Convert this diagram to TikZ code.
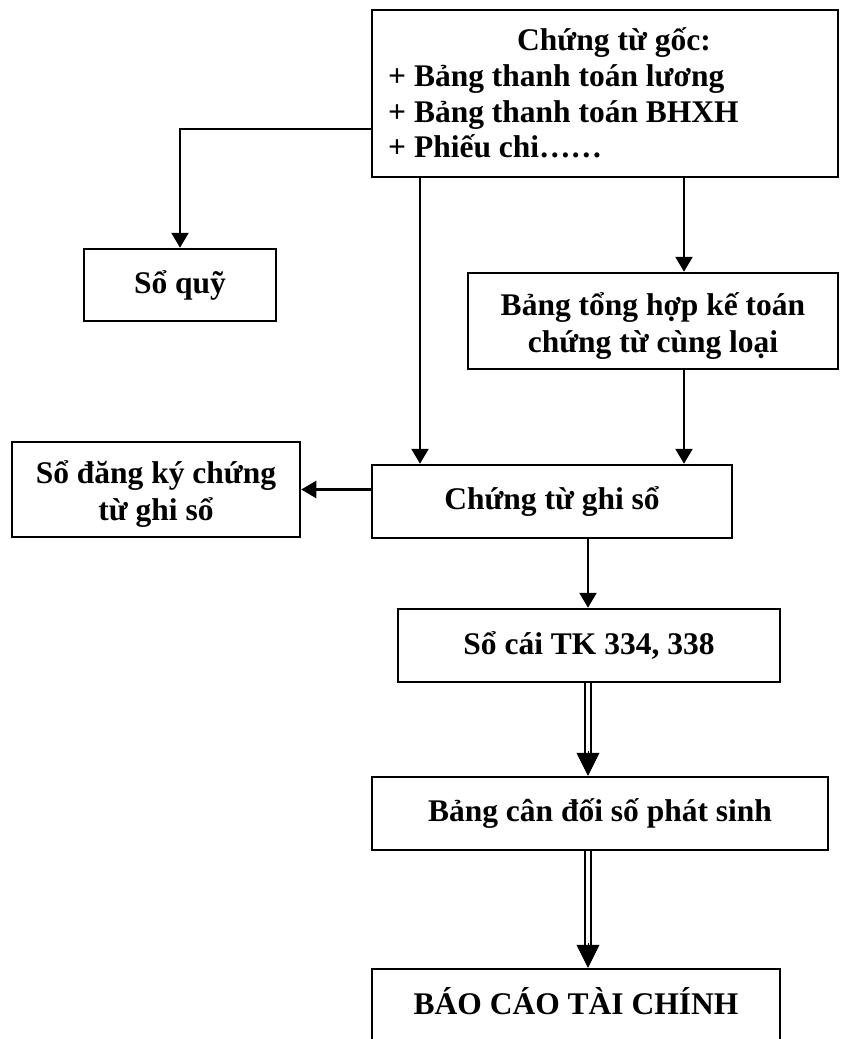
\documentclass[tikz,border=0pt]{standalone}
\usepackage{fontspec}
\setmainfont{Liberation Serif}
\usetikzlibrary{arrows.meta,calc}

\newcommand\dgfont{\fontsize{31.5}{37}\selectfont\bfseries}

\begin{document}
\begin{tikzpicture}[x=1pt,y=-1pt,
  box/.style={draw,line width=2.5pt,inner sep=0pt,align=center,font=\dgfont},
  txt/.style={inner sep=0pt,font=\dgfont},
  twoline/.style={label={[txt,align=center,yshift=-5pt]center:#1}},
  arr/.style={line width=2.3pt,-{Triangle[width=17pt,length=15pt]}},
  dblline/.style={line width=2.2pt,double distance=4pt},
  bigtip/.style={line width=0.5pt,-{Triangle[width=23pt,length=23pt]}}]

\useasboundingbox (0,0) rectangle (841,1039);

% boxes
\node[box,minimum width=466,minimum height=167] (goc) at (605,93.5) {};
\node[txt,anchor=base] (g1) at (614,50) {Chứng từ gốc:};
\node[txt,anchor=base west] (g2) at (388,86) {+ Bảng thanh toán lương};
\node[txt,anchor=base west] (g3) at (388,122) {+ Bảng thanh toán BHXH};
\node[txt,anchor=base west] (g4) at (388,157) {+ Phiếu chi\dots\dots};

\node[box,minimum width=192,minimum height=72] (quy) at (180,285) {Sổ quỹ};
\node[box,minimum width=370,minimum height=96,
  twoline={Bảng tổng hợp kế toán\\chứng từ cùng loại}] (bth) at (653,321) {};
\node[box,minimum width=288,minimum height=95,
  twoline={Sổ đăng ký chứng\\từ ghi sổ}] (sdk) at (156,489.5) {};
\node[box,minimum width=360,minimum height=73] (ctgs) at (552,501.5) {Chứng từ ghi sổ};
\node[box,minimum width=382,minimum height=73] (sc) at (589,645.5) {Sổ cái TK 334, 338};
\node[box,minimum width=456,minimum height=73] (cd) at (600,813.5) {Bảng cân đối số phát sinh};
\node[box,minimum width=408,minimum height=110] (bc) at (576,1024) {};
\node[txt] (bcT) at (576,1001) {BÁO CÁO TÀI CHÍNH};

% anchor columns / rows for the connectors
\coordinate (xa) at (420,0);
\coordinate (xb) at (684,0);
\coordinate (xd) at (588,0);
\coordinate (yq) at (0,129);

% single connectors
\draw[arr] (goc.west |- yq) -| (quy.north);
\draw[arr] (goc.south -| xa) -- (ctgs.north -| xa);
\draw[arr] (goc.south -| xb) -- (bth.north -| xb);
\draw[arr] (bth.south -| xb) -- (ctgs.north -| xb);
\draw[arr] (ctgs.west |- sdk.east) -- (sdk.east);
\draw[arr] (ctgs.south -| xd) -- (sc.north -| xd);

% double connectors
\draw[dblline,shorten >=20pt] (sc.south -| xd) -- (cd.north -| xd);
\draw[bigtip] ($(cd.north -| xd)+(0,-25)$) -- (cd.north -| xd);
\draw[dblline,shorten >=20pt] (cd.south -| xd) -- (bc.north -| xd);
\draw[bigtip] ($(bc.north -| xd)+(0,-25)$) -- (bc.north -| xd);
\end{tikzpicture}
\end{document}
